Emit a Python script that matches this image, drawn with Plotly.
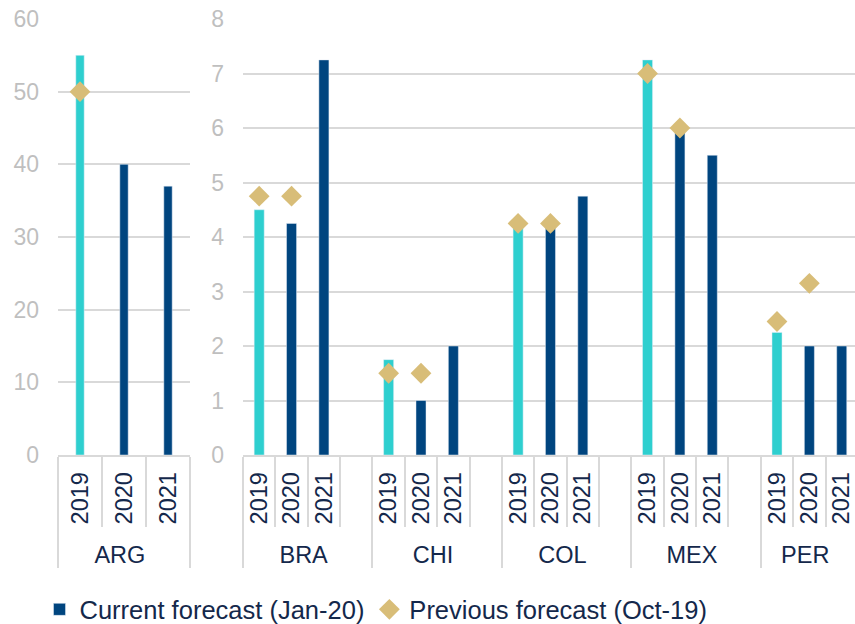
import plotly.graph_objects as go

# ---- data ----
arg_years = ["2019", "2020", "2021"]
arg_current = [55, 40, 37]
arg_previous = [50, None, None]

groups = ["BRA", "CHI", "COL", "MEX", "PER"]
years = ["2019", "2020", "2021"]
cur_2019 = [4.5, 1.75, 4.25, 7.25, 2.25]
cur_2020 = [4.25, 1.0, 4.25, 6.0, 2.0]
cur_2021 = [7.25, 2.0, 4.75, 5.5, 2.0]
prev_2019 = [4.75, 1.5, 4.25, 7.0, 2.45]
prev_2020 = [4.75, 1.5, 4.25, 6.0, 3.15]

CYAN = "#2ECFCF"
NAVY = "#00457F"
TAN = "#D8BD78"
GRID = "#D9D9D9"
TXT = "#14284B"
TICK = "#BFBFBF"
FONT = "Liberation Sans, Arial, sans-serif"

# build multicategory arrays for right panel (with a blank slot after each group except the last)
outer, inner = [], []
c19, c2021, p = [], [], []
for i, g in enumerate(groups):
    for j, y in enumerate(years):
        outer.append(g)
        inner.append(y)
        c19.append(cur_2019[i] if y == "2019" else None)
        c2021.append(cur_2020[i] if y == "2020" else (cur_2021[i] if y == "2021" else None))
        p.append(prev_2019[i] if y == "2019" else (prev_2020[i] if y == "2020" else None))
    if i < len(groups) - 1:
        outer.append(g)
        inner.append(" ")
        c19.append(None)
        c2021.append(None)
        p.append(None)

arg_outer = ["ARG"] * 3
arg_c19 = [arg_current[0], None, None]
arg_cur = [None, arg_current[1], arg_current[2]]

fig = go.Figure()

# left panel
fig.add_trace(go.Bar(x=[arg_outer, arg_years], y=arg_cur, marker_color=NAVY, width=0.19,
                     name="Current forecast (Jan-20)", showlegend=True, legendgroup="cur",
                     xaxis="x", yaxis="y"))
fig.add_trace(go.Bar(x=[arg_outer, arg_years], y=arg_c19, marker_color=CYAN, width=0.19,
                     showlegend=False, xaxis="x", yaxis="y"))
fig.add_trace(go.Scatter(x=[arg_outer, arg_years], y=arg_previous, mode="markers",
                         marker=dict(symbol="diamond", size=16, color=TAN),
                         name="Previous forecast (Oct-19)", showlegend=True, legendgroup="prev",
                         xaxis="x", yaxis="y"))

# right panel
fig.add_trace(go.Bar(x=[outer, inner], y=c2021, marker_color=NAVY, width=0.31,
                     showlegend=False, legendgroup="cur", xaxis="x2", yaxis="y2"))
fig.add_trace(go.Bar(x=[outer, inner], y=c19, marker_color=CYAN, width=0.31,
                     showlegend=False, xaxis="x2", yaxis="y2"))
fig.add_trace(go.Scatter(x=[outer, inner], y=p, mode="markers",
                         marker=dict(symbol="diamond", size=16, color=TAN),
                         showlegend=False, legendgroup="prev", xaxis="x2", yaxis="y2"))

W, H = 855, 624
L, T, B = 58, 19, 169
pw = W - L
d1 = (190 - L) / pw
d2 = (243 - L) / pw

xcommon = dict(type="multicategory", showline=True, linecolor=GRID, linewidth=1.5,
               ticks="outside", tickson="boundaries", ticklen=70, tickcolor=GRID, tickwidth=1.5,
               tickangle=-90, ticklabelstandoff=6,
               showdividers=True, dividercolor=GRID, dividerwidth=1.5,
               tickfont=dict(family=FONT, size=23.5, color=TXT), automargin=False,
               showgrid=False, zeroline=False)
ycommon = dict(showgrid=True, gridcolor=GRID, gridwidth=1.5, zeroline=False, showline=False,
               ticks="", tickfont=dict(family=FONT, size=23, color=TICK),
               ticklabelstandoff=18, automargin=False)

fig.update_layout(
    width=W, height=H,
    margin=dict(l=L, r=0, t=T, b=B, autoexpand=False),
    paper_bgcolor="white", plot_bgcolor="white",
    barmode="overlay",
    font=dict(family=FONT, color=TXT),
    xaxis=dict(domain=[0, d1], anchor="y", **xcommon),
    xaxis2=dict(domain=[d2, 1], anchor="y2", range=[-0.5, 18.41], **xcommon),
    yaxis=dict(domain=[0, 1], anchor="x", range=[0, 60], dtick=10, **ycommon),
    yaxis2=dict(domain=[0, 1], anchor="x2", range=[0, 8], dtick=1, **ycommon),
    legend=dict(orientation="h", x=-0.0232, xanchor="left", y=-0.355, yanchor="middle",
                font=dict(family=FONT, size=25.5, color=TXT), itemwidth=30,
                bgcolor="rgba(0,0,0,0)"),
)

fig.write_html("out.html")
